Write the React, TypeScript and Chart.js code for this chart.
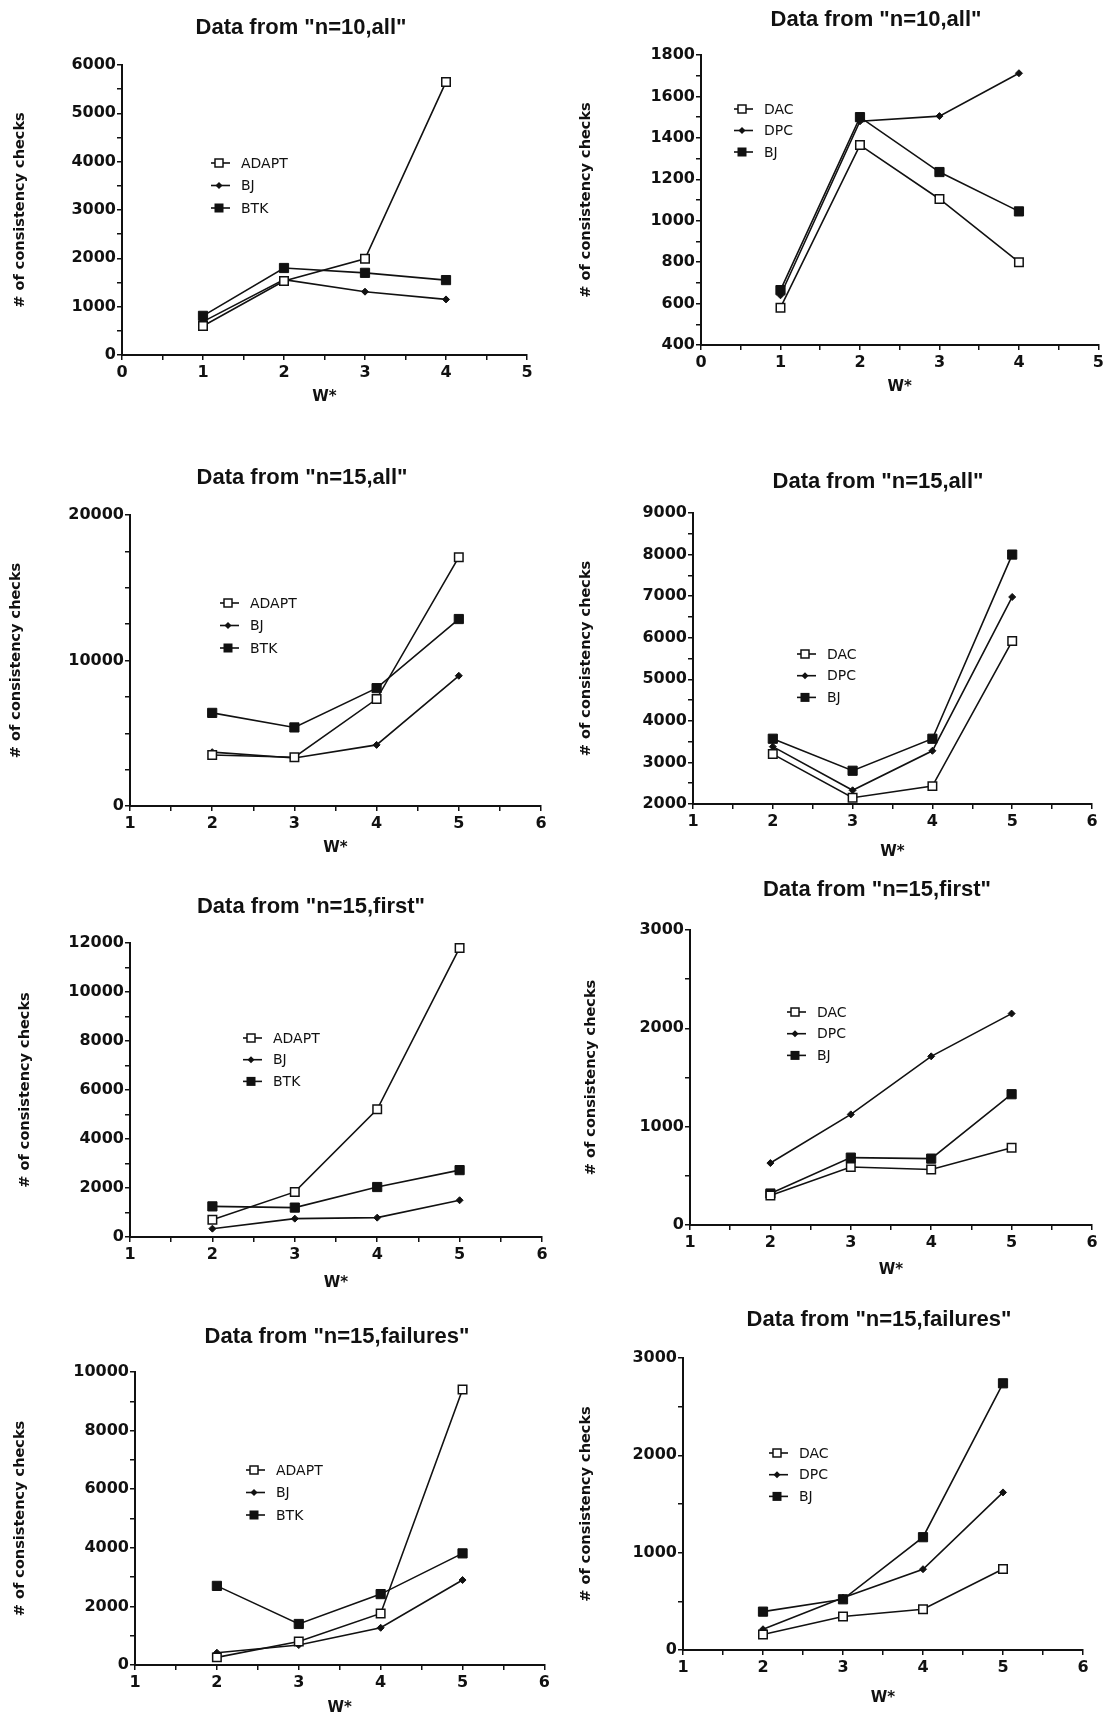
import React, { useEffect, useRef } from 'react';
import { Chart, registerables } from 'chart.js';

Chart.register(...registerables);

// ---------- data ----------
const wSmall = [1, 2, 3, 4];
const wLarge = [2, 3, 4, 5];

const namesLeft = ['ADAPT', 'BJ', 'BTK'];
const namesRight = ['DAC', 'DPC', 'BJ'];

const titles = [
  'Data from "n=10,all"',
  'Data from "n=10,all"',
  'Data from "n=15,all"',
  'Data from "n=15,all"',
  'Data from "n=15,first"',
  'Data from "n=15,first"',
  'Data from "n=15,failures"',
  'Data from "n=15,failures"',
];

// n=10, all (left)
const n10AllAdapt = [600, 1530, 1990, 5650];
const n10AllBJ = [690, 1560, 1310, 1150];
const n10AllBTK = [810, 1800, 1700, 1550];
// n=10, all (right)
const n10AllDAC = [580, 1365, 1105, 800];
const n10AllDPC = [640, 1480, 1505, 1712];
const n10AllBJr = [665, 1500, 1235, 1045];
// n=15, all (left)
const n15AllAdapt = [3500, 3350, 7350, 17100];
const n15AllBJ = [3700, 3300, 4200, 8950];
const n15AllBTK = [6400, 5400, 8100, 12850];
// n=15, all (right)
const n15AllDAC = [3200, 2150, 2430, 5920];
const n15AllDPC = [3380, 2330, 3280, 6980];
const n15AllBJr = [3570, 2800, 3570, 8000];
// n=15, first (left)
const n15FirstAdapt = [700, 1840, 5210, 11800];
const n15FirstBJ = [340, 750, 790, 1500];
const n15FirstBTK = [1250, 1200, 2040, 2730];
// n=15, first (right)
const n15FirstDAC = [300, 590, 565, 785];
const n15FirstDPC = [630, 1125, 1715, 2150];
const n15FirstBJr = [320, 685, 675, 1330];
// n=15, failures (left)
const n15FailAdapt = [260, 800, 1760, 9400];
const n15FailBJ = [420, 680, 1270, 2900];
const n15FailBTK = [2700, 1400, 2420, 3810];
// n=15, failures (right)
const n15FailDAC = [160, 345, 418, 833];
const n15FailDPC = [213, 538, 830, 1619];
const n15FailBJr = [394, 521, 1159, 2740];

// axis ranges: [xMin, xMax, yMin, yMax, yMajor, yMinor]
const axisRanges = [
  [0, 5, 0, 6000, 1000, 500],
  [0, 5, 400, 1800, 200, 100],
  [1, 6, 0, 20000, 10000, 2500],
  [1, 6, 2000, 9000, 1000, 500],
  [1, 6, 0, 12000, 2000, 1000],
  [1, 6, 0, 3000, 1000, 500],
  [1, 6, 0, 10000, 2000, 1000],
  [1, 6, 0, 3000, 1000, 500],
];

const seriesSets = [
  { xs: wSmall, names: namesLeft, vals: [n10AllAdapt, n10AllBJ, n10AllBTK] },
  { xs: wSmall, names: namesRight, vals: [n10AllDAC, n10AllDPC, n10AllBJr] },
  { xs: wLarge, names: namesLeft, vals: [n15AllAdapt, n15AllBJ, n15AllBTK] },
  { xs: wLarge, names: namesRight, vals: [n15AllDAC, n15AllDPC, n15AllBJr] },
  { xs: wLarge, names: namesLeft, vals: [n15FirstAdapt, n15FirstBJ, n15FirstBTK] },
  { xs: wLarge, names: namesRight, vals: [n15FirstDAC, n15FirstDPC, n15FirstBJr] },
  { xs: wLarge, names: namesLeft, vals: [n15FailAdapt, n15FailBJ, n15FailBTK] },
  { xs: wLarge, names: namesRight, vals: [n15FailDAC, n15FailDPC, n15FailBJr] },
];

// ---------- layout (page coordinates) ----------
type Layout = {
  cx: number; cy: number; w: number; h: number;
  L: number; T: number; R: number; B: number;
  tx: number; ty: number; yTitleX: number; xTitleY: number;
  lx: number; ly: number; rowGap: number;
};

const layouts: Layout[] = [
  { cx: 0, cy: 0, w: 553, h: 460, L: 122, T: 65, R: 527, B: 355, tx: 301, ty: 28, yTitleX: 20, xTitleY: 397, lx: 211, ly: 163, rowGap: 22.5 },
  { cx: 553, cy: 0, w: 554, h: 460, L: 701, T: 55, R: 1099, B: 345, tx: 876, ty: 20, yTitleX: 586, xTitleY: 387, lx: 734, ly: 109, rowGap: 21.5 },
  { cx: 0, cy: 430, w: 553, h: 460, L: 130, T: 515, R: 541, B: 806, tx: 302, ty: 478, yTitleX: 16, xTitleY: 848, lx: 220, ly: 603, rowGap: 22.5 },
  { cx: 553, cy: 430, w: 554, h: 460, L: 693, T: 513, R: 1092, B: 804, tx: 878, ty: 482, yTitleX: 586, xTitleY: 852, lx: 797, ly: 654, rowGap: 21.7 },
  { cx: 0, cy: 860, w: 553, h: 460, L: 130, T: 943, R: 542, B: 1237, tx: 311, ty: 907, yTitleX: 25, xTitleY: 1283, lx: 243, ly: 1038, rowGap: 21.7 },
  { cx: 553, cy: 860, w: 554, h: 460, L: 690, T: 930, R: 1092, B: 1225, tx: 877, ty: 890, yTitleX: 591, xTitleY: 1270, lx: 787, ly: 1012, rowGap: 21.7 },
  { cx: 0, cy: 1290, w: 553, h: 460, L: 135, T: 1372, R: 546, B: 1665, tx: 337, ty: 1337, yTitleX: 20, xTitleY: 1708, lx: 246, ly: 1470, rowGap: 22.5 },
  { cx: 553, cy: 1290, w: 554, h: 460, L: 683, T: 1358, R: 1083, B: 1650, tx: 879, ty: 1320, yTitleX: 586, xTitleY: 1698, lx: 769, ly: 1453, rowGap: 21.7 },
];

const INK = '#111111';
const markerStyles = ['open', 'diamond', 'filled'];

const Y_TITLE_SIZE = 14.5;
const X_TITLE_SIZE = 15;
const TITLE_PAD = 4;

function drawMarker(ctx: CanvasRenderingContext2D, kind: string, x: number, y: number) {
  ctx.save();
  ctx.fillStyle = INK;
  ctx.strokeStyle = INK;
  ctx.lineWidth = 1.5;
  if (kind === 'open') {
    ctx.fillStyle = '#ffffff';
    ctx.fillRect(x - 4, y - 4, 8, 8);
    ctx.strokeRect(x - 4, y - 4, 8, 8);
  } else if (kind === 'diamond') {
    ctx.beginPath();
    ctx.moveTo(x, y - 3.5);
    ctx.lineTo(x + 3.5, y);
    ctx.lineTo(x, y + 3.5);
    ctx.lineTo(x - 3.5, y);
    ctx.closePath();
    ctx.fill();
  } else {
    ctx.fillRect(x - 4.5, y - 4.5, 9, 9);
  }
  ctx.restore();
}

function Panel({ index }: { index: number }) {
  const ref = useRef<HTMLCanvasElement | null>(null);
  const lay = layouts[index];
  useEffect(() => {
    const canvas = ref.current;
    if (!canvas) return;
    const [xMin, xMax, yMin, yMax, yMajor, yMinor] = axisRanges[index];
    const set = seriesSets[index];
    const title = titles[index];

    const offY = (Y_TITLE_SIZE * 1.2) / 2 + TITLE_PAD;
    const offX = (X_TITLE_SIZE * 1.2) / 2 + TITLE_PAD;
    const padL = lay.yTitleX - lay.cx - offY;
    const yAxisWidth = lay.L - lay.cx - padL;
    const padT = lay.T - lay.cy;
    const padR = lay.cx + lay.w - lay.R;
    const xAxisHeight = lay.xTitleY + offX - lay.B;
    const padB = lay.cy + lay.h - lay.xTitleY - offX;

    const datasets = set.vals.map((vals, i) => {
      const kind = markerStyles[i];
      return {
        label: set.names[i],
        data: set.xs.map((x, j) => ({ x, y: vals[j] })),
        borderColor: INK,
        borderWidth: 1.6,
        tension: 0,
        fill: false,
        clip: false as const,
        pointStyle: kind === 'diamond' ? 'rectRot' : 'rect',
        pointRadius: kind === 'open' ? 6 : kind === 'filled' ? 6.5 : 3.5,
        pointBorderWidth: kind === 'open' ? 1.5 : 1,
        pointBackgroundColor: kind === 'open' ? '#ffffff' : INK,
        pointBorderColor: INK,
      };
    });

    const decor = {
      id: 'panelDecor' + index,
      afterDraw(chart: any) {
        const ctx: CanvasRenderingContext2D = chart.ctx;
        ctx.save();
        ctx.fillStyle = INK;
        ctx.font = 'bold 22px "Liberation Sans", Arial, sans-serif';
        ctx.textAlign = 'center';
        ctx.textBaseline = 'middle';
        ctx.fillText(title, lay.tx - lay.cx, lay.ty - lay.cy);
        // legend
        ctx.font = '14px "DejaVu Sans", sans-serif';
        ctx.textAlign = 'left';
        set.names.forEach((name, i) => {
          const y = lay.ly - lay.cy + i * lay.rowGap;
          const x0 = lay.lx - lay.cx;
          ctx.strokeStyle = INK;
          ctx.lineWidth = 1.6;
          ctx.beginPath();
          ctx.moveTo(x0, y);
          ctx.lineTo(x0 + 19, y);
          ctx.stroke();
          drawMarker(ctx, markerStyles[i], x0 + 8, y);
          ctx.fillStyle = INK;
          ctx.fillText(name, x0 + 30, y + 1);
        });
        ctx.restore();
      },
    };

    const isMajorY = (v: number) => Math.abs(v / yMajor - Math.round(v / yMajor)) < 1e-6;
    const tickFont = { family: '"DejaVu Sans", sans-serif', size: 16, weight: 'bold' as const };

    const chart = new Chart(canvas, {
      type: 'line',
      data: { datasets: datasets as any },
      options: {
        animation: false,
        responsive: false,
        devicePixelRatio: 1,
        layout: { padding: { left: padL, top: padT, right: padR, bottom: padB } },
        plugins: {
          legend: { display: false },
          tooltip: { enabled: false },
          title: { display: false },
        },
        scales: {
          x: {
            type: 'linear',
            min: xMin,
            max: xMax,
            border: { display: true, color: INK, width: 2 },
            grid: { display: true, drawOnChartArea: false, drawTicks: true, tickLength: 5, color: INK, lineWidth: 1.5 },
            ticks: {
              stepSize: 0.5,
              autoSkip: false,
              maxRotation: 0,
              padding: 3,
              color: INK,
              font: tickFont,
              callback: (v: any) => (Number.isInteger(Number(v)) ? String(v) : ''),
            },
            title: {
              display: true,
              text: 'W*',
              color: INK,
              font: { family: '"DejaVu Sans", sans-serif', size: X_TITLE_SIZE, weight: 'bold' },
              padding: { top: TITLE_PAD, bottom: TITLE_PAD },
            },
            afterFit: (s: any) => {
              s.height = xAxisHeight;
            },
          },
          y: {
            type: 'linear',
            min: yMin,
            max: yMax,
            border: { display: true, color: INK, width: 2 },
            grid: { display: true, drawOnChartArea: false, drawTicks: true, tickLength: 5, color: INK, lineWidth: 1.5 },
            ticks: {
              stepSize: yMinor,
              autoSkip: false,
              padding: 1,
              color: INK,
              font: tickFont,
              callback: (v: any) => (isMajorY(Number(v)) ? String(v) : ''),
            },
            title: {
              display: true,
              text: '# of consistency checks',
              color: INK,
              font: { family: '"DejaVu Sans", sans-serif', size: Y_TITLE_SIZE, weight: 'bold' },
              padding: { top: TITLE_PAD, bottom: TITLE_PAD },
            },
            afterFit: (s: any) => {
              s.width = yAxisWidth;
            },
          },
        },
      },
      plugins: [decor],
    });
    return () => chart.destroy();
  }, [index]);

  return (
    <canvas
      ref={ref}
      width={lay.w}
      height={lay.h}
      style={{ position: 'absolute', left: lay.cx, top: lay.cy, width: lay.w, height: lay.h }}
    />
  );
}

export default function App() {
  return (
    <div
      style={{
        position: 'absolute',
        left: 0,
        top: 0,
        width: 1107,
        height: 1720,
        overflow: 'hidden',
        background: '#ffffff',
      }}
    >
      {layouts.map((_, i) => (
        <Panel key={i} index={i} />
      ))}
    </div>
  );
}
